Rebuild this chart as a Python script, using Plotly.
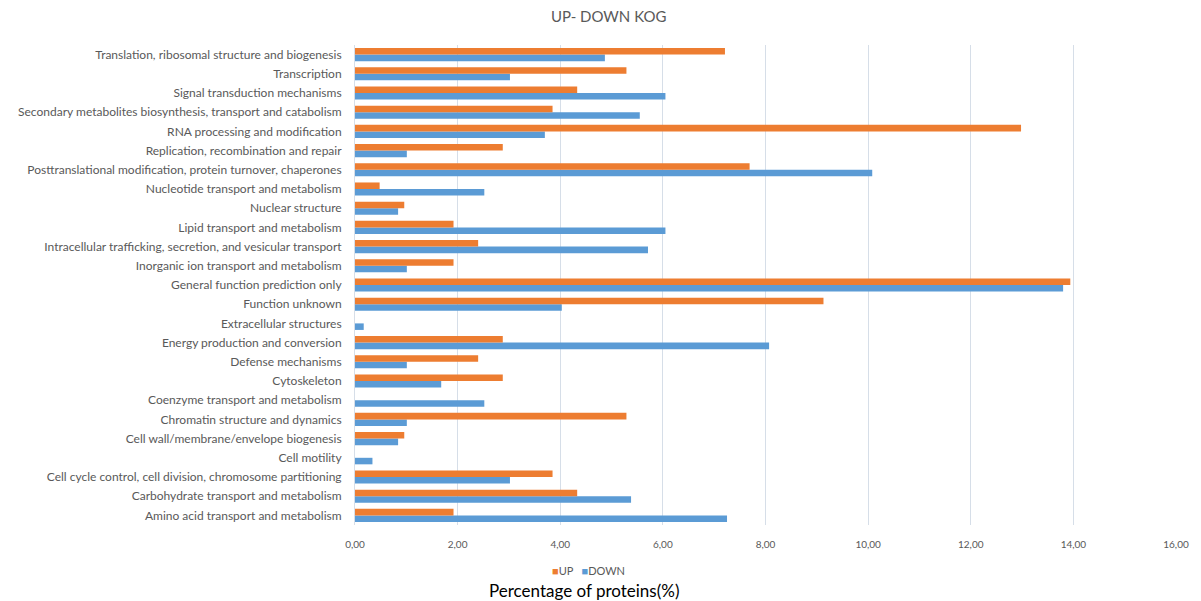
import plotly.graph_objects as go

# KOG categories, listed bottom-to-top along the y axis
categories = [
    "Amino acid transport and metabolism",
    "Carbohydrate transport and metabolism",
    "Cell cycle control, cell division, chromosome partitioning",
    "Cell motility",
    "Cell wall/membrane/envelope biogenesis",
    "Chromatin structure and dynamics",
    "Coenzyme transport and metabolism",
    "Cytoskeleton",
    "Defense mechanisms",
    "Energy production and conversion",
    "Extracellular structures",
    "Function unknown",
    "General function prediction only",
    "Inorganic ion transport and metabolism",
    "Intracellular trafficking, secretion, and vesicular transport",
    "Lipid transport and metabolism",
    "Nuclear structure",
    "Nucleotide transport and metabolism",
    "Posttranslational modification, protein turnover, chaperones",
    "Replication, recombination and repair",
    "RNA processing and modification",
    "Secondary metabolites biosynthesis, transport and catabolism",
    "Signal transduction mechanisms",
    "Transcription",
    "Translation, ribosomal structure and biogenesis",
]

# Percentage of proteins per category
up_values = [1.92, 4.33, 3.85, 0.0, 0.96, 5.29, 0.0, 2.88, 2.40, 2.88, 0.0, 9.13,
             13.94, 1.92, 2.40, 1.92, 0.96, 0.48, 7.69, 2.88, 12.98, 3.85, 4.33,
             5.29, 7.21]
down_values = [7.25, 5.38, 3.02, 0.34, 0.84, 1.01, 2.52, 1.68, 1.01, 8.07, 0.17, 4.03,
               13.80, 1.01, 5.71, 6.05, 0.84, 2.52, 10.08, 1.01, 3.70, 5.55, 6.05,
               3.02, 4.87]

x_ticks = [0, 2, 4, 6, 8, 10, 12, 14, 16]

ORANGE = "#ED7D31"
BLUE = "#5B9BD5"
GRAY = "#595959"
FONT = "Lato, Open Sans, sans-serif"

fig = go.Figure()
fig.add_trace(go.Bar(
    y=categories, x=down_values, name="DOWN", orientation="h",
    marker=dict(color=BLUE, line_width=0), showlegend=False,
))
fig.add_trace(go.Bar(
    y=categories, x=up_values, name="UP", orientation="h",
    marker=dict(color=ORANGE, line_width=0), showlegend=False,
))

# compact legend: small coloured squares followed by series names
legend_text = (
    f"<span style='color:{ORANGE}'>■</span>UP&nbsp;&nbsp;&nbsp;"
    f"<span style='color:{BLUE}'>■</span>DOWN"
)

fig.update_layout(
    width=1201, height=601,
    margin=dict(l=355, r=22, t=45, b=76),
    paper_bgcolor="white", plot_bgcolor="white",
    barmode="group", bargap=0.32, bargroupgap=0,
    separators=",.",
    font=dict(family=FONT, color=GRAY, size=11),
    title=dict(
        text="UP- DOWN KOG", x=0.309, xref="paper", xanchor="center",
        y=1 - 17 / 601, yanchor="middle",
        font=dict(size=15, color=GRAY, family=FONT),
    ),
    annotations=[
        dict(
            text=legend_text, xref="paper", yref="paper",
            x=0.285, y=-0.094, xanchor="center", yanchor="middle", showarrow=False,
            font=dict(size=11, color=GRAY, family=FONT),
        ),
        dict(
            text="Percentage of proteins(%)", xref="paper", yref="paper",
            x=0.279, y=-0.137, xanchor="center", yanchor="middle", showarrow=False,
            font=dict(size=17, color="black", family=FONT),
        ),
    ],
)

fig.update_xaxes(
    range=[0, 16], tickvals=x_ticks, tickformat=".2f",
    showgrid=True, gridcolor="#D6DEE8", gridwidth=1,
    zeroline=False, showline=False, ticks="", ticklabelstandoff=12,
    tickfont=dict(size=10, color=GRAY),
)
fig.update_yaxes(
    type="category", categoryorder="array", categoryarray=categories,
    showgrid=False, zeroline=False, showline=True, linecolor="#D6DEE8",
    ticks="", ticklabelstandoff=10, tickfont=dict(size=12, color=GRAY),
)

fig.write_html("out.html")
